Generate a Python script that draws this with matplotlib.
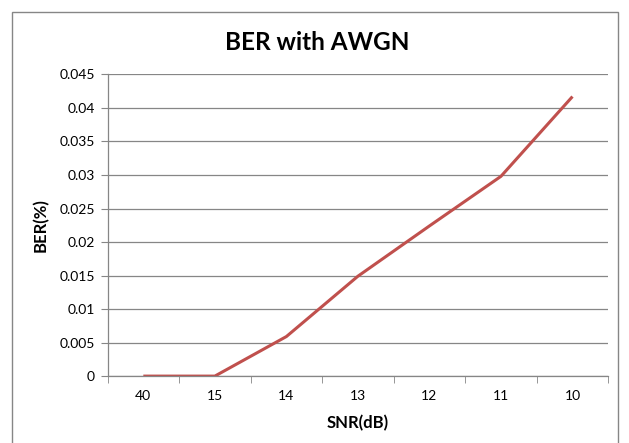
import matplotlib.pyplot as plt
from matplotlib.patches import Rectangle

snr_labels = ["40", "15", "14", "13", "12", "11", "10"]
ber = [0.0, 0.0, 0.0059, 0.0149, 0.0224, 0.0298, 0.0417]

plt.rcParams['font.family'] = ['Lato', 'DejaVu Sans']

fig = plt.figure(figsize=(6.29, 4.43), dpi=100)
ax = fig.add_axes([0.171, 0.151, 0.796, 0.681])

x = list(range(len(ber)))
ax.plot(x, ber, color='#C0504D', linewidth=2.2, solid_capstyle='butt')

ax.set_xlim(-0.5, len(ber) - 0.5)
ax.set_ylim(0, 0.045)
ax.set_yticks([i * 0.005 for i in range(10)])
ax.set_yticklabels(["0", "0.005", "0.01", "0.015", "0.02", "0.025", "0.03",
                    "0.035", "0.04", "0.045"], fontsize=10)
ax.set_xticks(x)
ax.set_xticklabels(snr_labels, fontsize=10)
ax.tick_params(axis='x', length=0, pad=10)
ax.set_xticks([i - 0.5 for i in range(len(ber) + 1)], minor=True)
ax.tick_params(axis='x', which='minor', length=5, color='#868686', direction='out')
ax.tick_params(axis='y', length=5, color='#868686', direction='out', pad=4)

ax.grid(axis='y', color='#868686', linewidth=0.9)
ax.set_axisbelow(True)
for s in ['top', 'right']:
    ax.spines[s].set_visible(False)
for s in ['left', 'bottom']:
    ax.spines[s].set_color('#868686')
    ax.spines[s].set_linewidth(0.9)

ax.set_xlabel("SNR(dB)", fontsize=12, fontweight='bold', labelpad=9)
ax.set_ylabel("BER(%)", fontsize=12, fontweight='bold', labelpad=8)
fig.text(0.5 + 0.005, 0.905, "BER with AWGN", ha='center', va='center',
         fontsize=17.5, fontweight='bold')

# chart area frame
fig.patches.append(Rectangle((12 / 629, -0.05), 606 / 629, 1 - 12 / 443 + 0.05,
                             transform=fig.transFigure, fill=False,
                             edgecolor='#868686', linewidth=1))

fig.savefig("out.png", dpi=100)
